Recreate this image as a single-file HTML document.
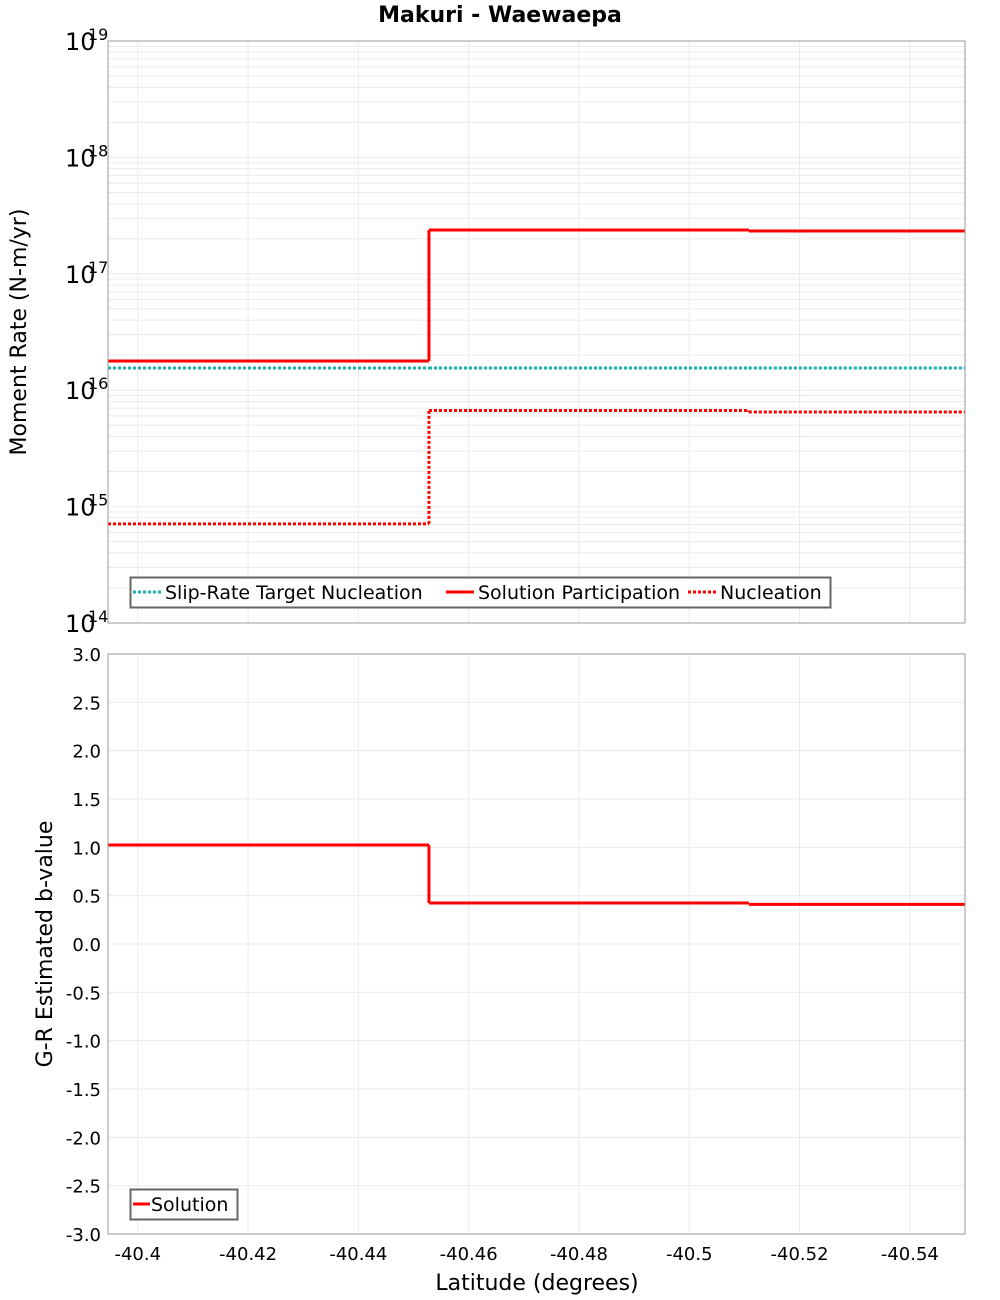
<!DOCTYPE html>
<html><head><meta charset="utf-8"><style>
body{margin:0;background:#fff;}
svg{display:block;font-family:"DejaVu Sans","Liberation Sans",sans-serif;}
</style></head><body>
<svg id="c" width="1000" height="1300" xmlns="http://www.w3.org/2000/svg">
<text x="500" y="22" text-anchor="middle" font-size="22" font-weight="bold">Makuri - Waewaepa</text>
<g id="topg"></g>
<g id="botg"></g>
<text x="537" y="1290" text-anchor="middle" font-size="22">Latitude (degrees)</text>
<text transform="translate(26,332) rotate(-90)" text-anchor="middle" font-size="22">Moment Rate (N-m/yr)</text>
<text transform="translate(52,944) rotate(-90)" text-anchor="middle" font-size="22">G-R Estimated b-value</text>
</svg>
<script>
// data
const xTicks=[-40.4,-40.42,-40.44,-40.46,-40.48,-40.5,-40.52,-40.54];
const segBounds=[-40.3946,-40.4528,-40.5108,-40.5500];
const targetNucl=[1.55e16,1.55e16,1.55e16];
const solPart=[1.78e16,2.38e17,2.33e17];
const nucleation=[7.1e14,6.7e15,6.5e15];
const bValues=[1.024,0.424,0.41];
const bTicks=[3.0,2.5,2.0,1.5,1.0,0.5,0.0,-0.5,-1.0,-1.5,-2.0,-2.5,-3.0];
const logDecades=[14,15,16,17,18,19];

const NS='http://www.w3.org/2000/svg';
const L=108,R=965,T1=41,B1=623,T2=654,B2=1234;
const xs=v=>L+(v-segBounds[0])/(segBounds[3]-segBounds[0])*(R-L);
const ys1=v=>B1-(Math.log10(v)-14)/5*(B1-T1);
const ys2=v=>B2-(v+3)/6*(B2-T2);
function mk(p,tag,a,txt){const e=document.createElementNS(NS,tag);for(const k in a)e.setAttribute(k,a[k]);if(txt!=null)e.textContent=txt;p.appendChild(e);return e;}
const topG=document.getElementById('topg'),botG=document.getElementById('botg');

for(let d=14;d<19;d++)for(let m=1;m<10;m++){const y=ys1(m*Math.pow(10,d));
 const g=mk(topG,'line',{x1:L,x2:R,y1:y,y2:y,stroke:'#ebebeb','stroke-width':1});
 
 }
xTicks.forEach(v=>{const x=xs(v);
 const g=mk(topG,'line',{x1:x,x2:x,y1:T1,y2:B1,stroke:'#ebebeb'});
 
 
 const g2=mk(botG,'line',{x1:x,x2:x,y1:T2,y2:B2,stroke:'#ebebeb'});
 
 
 const t=mk(botG,'text',{x:x,y:B2+26,'text-anchor':'middle','font-size':18},String(v));
 
 });
logDecades.forEach(d=>{const y=ys1(Math.pow(10,d));
 const t=mk(topG,'text',{x:65,y:y+9,'font-size':24},'10');
 
 
 const s=mk(topG,'text',{x:88,y:y-1,'font-size':16},String(d));
 
 });
bTicks.forEach(v=>{const y=ys2(v);
 const g=mk(botG,'line',{x1:L,x2:R,y1:y,y2:y,stroke:'#ebebeb'});
 
 
 const t=mk(botG,'text',{x:101,y:y+7,'text-anchor':'end','font-size':18},v.toFixed(1));
 
 });

function steps(p,vals,ys,color,dash,name){
 for(let i=0;i<vals.length;i++){
  const a={x1:xs(segBounds[i]),x2:xs(segBounds[i+1]),y1:ys(vals[i]),y2:ys(vals[i]),stroke:color,'stroke-width':3};
  if(dash)a['stroke-dasharray']=dash;
  const e=mk(p,'line',a);
  
  
  if(i>0){const v=mk(p,'line',{x1:xs(segBounds[i]),x2:xs(segBounds[i]),y1:ys(vals[i-1]),y2:ys(vals[i]),stroke:color,'stroke-width':3,'stroke-dasharray':dash||'none'});
   
   }
 }}
steps(topG,targetNucl,ys1,'#17b1b1','3,2','target-nucleation-line');
steps(topG,nucleation,ys1,'#ff0000','3,2','nucleation-line');
steps(topG,solPart,ys1,'#ff0000',null,'solution-participation-line');
steps(botG,bValues,ys2,'#ff0000',null,'b-value-line');

const f1=mk(topG,'rect',{x:L,y:T1,width:R-L,height:B1-T1,fill:'none',stroke:'#999'});


const f2=mk(botG,'rect',{x:L,y:T2,width:R-L,height:B2-T2,fill:'none',stroke:'#999'});



const lg=mk(topG,'g',{});


mk(lg,'rect',{x:130.5,y:577.5,width:700,height:30,fill:'#fff',stroke:'#666','stroke-width':2});
const items=[['Slip-Rate Target Nucleation','#17b1b1','3,2',133],['Solution Participation','#ff0000',null,446],['Nucleation','#ff0000','3,2',688]];
items.forEach(it=>{const a={x1:it[3],x2:it[3]+28,y1:592,y2:592,stroke:it[1],'stroke-width':3};if(it[2])a['stroke-dasharray']=it[2];
 const ln=mk(lg,'line',a);
 
 
 const t=mk(lg,'text',{x:it[3]+32,y:599,'font-size':19},it[0]);
 
 });
const lg2=mk(botG,'g',{});


mk(lg2,'rect',{x:130.5,y:1189.5,width:107,height:30,fill:'#fff',stroke:'#666','stroke-width':2});
const sl=mk(lg2,'line',{x1:133,x2:150,y1:1204,y2:1204,stroke:'#ff0000','stroke-width':3});


const st=mk(lg2,'text',{x:151,y:1211,'font-size':19},'Solution');


</script>
</body></html>
